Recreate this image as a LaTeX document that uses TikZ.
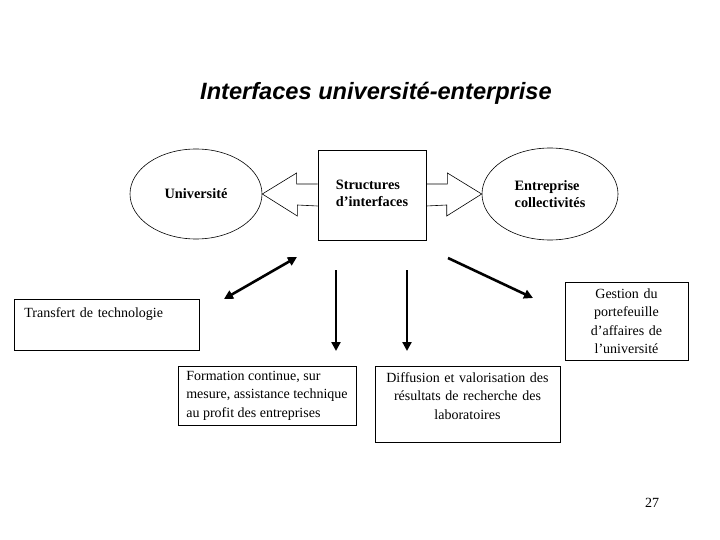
\documentclass[tikz,border=0pt]{standalone}
\usepackage{fontspec}
\setmainfont{Liberation Serif}
\newfontfamily\titrefont{Liberation Sans}
\usetikzlibrary{shapes.geometric, arrows.meta, calc}

\begin{document}
\begin{tikzpicture}[
    x=1pt, y=-1pt,
    font=\fontsize{14}{18.5}\selectfont,
    cadre/.style={draw, line width=0.8pt, inner sep=0pt},
    bulle/.style={draw, ellipse, line width=0.6pt, inner sep=0pt, font=\bfseries\fontsize{14.3}{17.5}\selectfont},
    fleche/.style={line width=2.6pt, -{Triangle[length=9pt, width=9pt]}},
    bloc/.style={line width=0.6pt, line join=miter}
]
    \useasboundingbox (0,0) rectangle (720,540);

    % 1. Title
    \node[font=\titrefont\bfseries\itshape\fontsize{23.6}{28}\selectfont] (titre) at (376,93) {Interfaces université-enterprise};

    % 2. The three partners
    \node[bulle, minimum width=132, minimum height=90] (univ) at (196,194) {Université};
    \node[cadre, minimum width=108, minimum height=90, font=\bfseries\fontsize{14.3}{17}\selectfont] (struct) at (372,195)
        {\raisebox{11pt}{\begin{tabular}{@{}l@{}}Structures\\d'interfaces\end{tabular}}};
    \node[bulle, minimum width=136, minimum height=92, align=left] (entr) at (550,194) {Entreprise\\collectivités};

    % block arrows on each side of the box
    \draw[bloc] ($(struct.west)+(0,-11)$) -- ++(-21,0) -- ++(0,-11) -- (univ.east)
        -- ++(35,22) -- ++(0,-11) -- ($(struct.west)+(0,11)$);
    \draw[bloc] ($(struct.east)+(0,-11)$) -- ++(21,0) -- ++(0,-11) -- (entr.west)
        -- ++(-35,22) -- ++(0,-11) -- ($(struct.east)+(0,11)$);

    % 3. Arrow ends
    \coordinate (tt-haut) at (297,257);
    \coordinate (tt-bas) at (224,299);
    \coordinate (fc-haut) at (336,270);
    \coordinate (fc-bas) at (336,351);
    \coordinate (dv-haut) at (407,270);
    \coordinate (dv-bas) at (407,351);
    \coordinate (gp-haut) at (448,258);
    \coordinate (gp-bas) at (533,298);

    \draw[fleche, {Triangle[length=9pt, width=9pt]}-{Triangle[length=9pt, width=9pt]}] (tt-haut) -- (tt-bas);
    \draw[fleche] (fc-haut) -- (fc-bas);
    \draw[fleche] (dv-haut) -- (dv-bas);
    \draw[fleche] (gp-haut) -- (gp-bas);

    % 4. The four missions
    \node[cadre, anchor=north west, text width=165, align=left, inner xsep=10, inner ysep=8, text depth=25pt]
        (transfert) at (14,299) {Transfert de technologie};
    \node[cadre, minimum width=123, minimum height=78, text width=119, align=center]
        (gestion) at (626.5,321) {Gestion du\\portefeuille\\d'affaires de\\l'université};
    \node[cadre, minimum width=178, minimum height=59, align=left]
        (formation) at (267,395.5) {Formation continue, sur\\mesure, assistance technique\\au profit des entreprises};
    \node[cadre, anchor=north, text width=179, align=center, inner xsep=3, inner ysep=6, text depth=54pt]
        (diffusion) at (467.5,366) {Diffusion et valorisation des\\résultats de recherche des\\laboratoires};

    \node (page) at (652,503) {27};
\end{tikzpicture}
\end{document}
